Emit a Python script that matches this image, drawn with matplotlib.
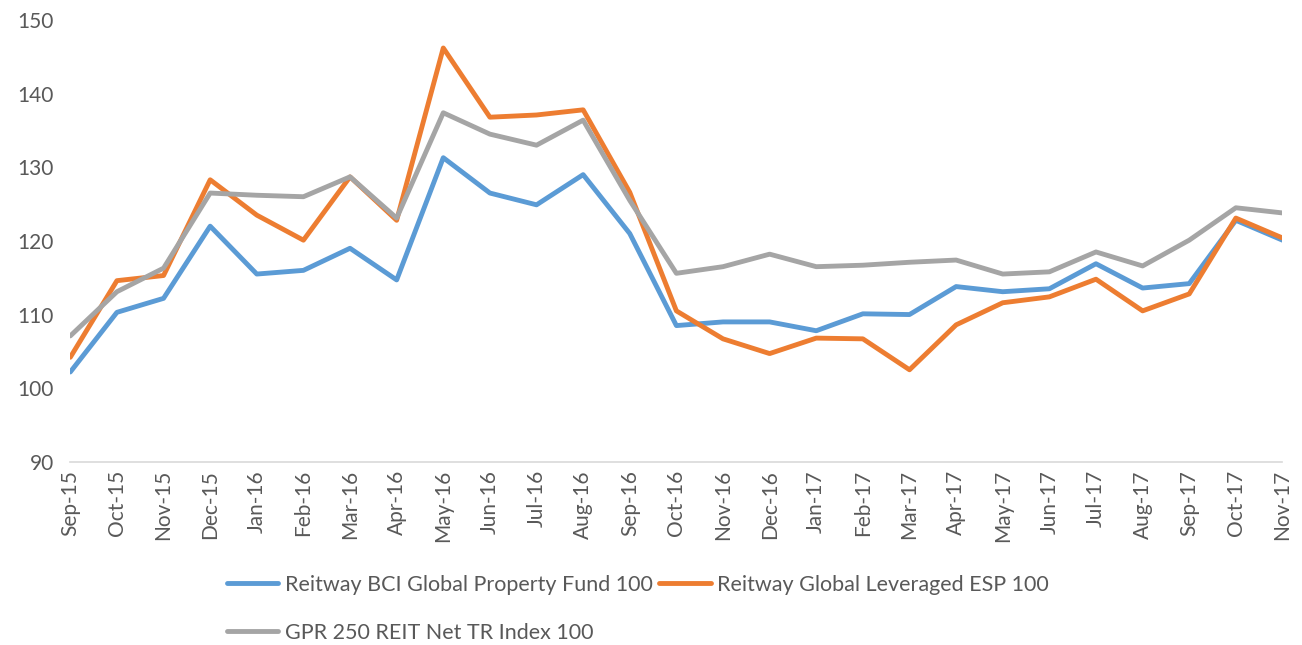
import matplotlib
matplotlib.use("Agg")
import matplotlib.pyplot as plt

plt.rcParams['font.family'] = ['Lato', 'DejaVu Sans']

months = ["Sep-15", "Oct-15", "Nov-15", "Dec-15", "Jan-16", "Feb-16", "Mar-16",
          "Apr-16", "May-16", "Jun-16", "Jul-16", "Aug-16", "Sep-16", "Oct-16",
          "Nov-16", "Dec-16", "Jan-17", "Feb-17", "Mar-17", "Apr-17", "May-17",
          "Jun-17", "Jul-17", "Aug-17", "Sep-17", "Oct-17", "Nov-17"]

bci_fund = [102.2, 110.3, 112.2, 122.0, 115.5, 116.0, 119.0, 114.7, 131.3, 126.5,
            124.9, 129.0, 121.0, 108.5, 109.0, 109.0, 107.8, 110.1, 110.0, 113.8,
            113.1, 113.5, 116.9, 113.6, 114.2, 122.8, 120.1]
leveraged_esp = [104.2, 114.6, 115.3, 128.3, 123.5, 120.1, 128.7, 122.8, 146.2, 136.8,
                 137.1, 137.8, 126.6, 110.5, 106.7, 104.7, 106.8, 106.7, 102.5, 108.6,
                 111.6, 112.4, 114.8, 110.5, 112.8, 123.1, 120.4]
gpr_index = [107.1, 113.1, 116.3, 126.5, 126.2, 126.0, 128.7, 123.1, 137.4, 134.5,
             133.0, 136.4, 125.5, 115.6, 116.5, 118.2, 116.5, 116.7, 117.1, 117.4,
             115.5, 115.8, 118.5, 116.6, 120.1, 124.5, 123.8]

labels = ["Reitway BCI Global Property Fund 100",
          "Reitway Global Leveraged ESP 100",
          "GPR 250 REIT Net TR Index 100"]

text_color = "#595959"

fig = plt.figure(figsize=(13.02, 6.45), dpi=100)
ax = fig.add_axes([0.054, 0.284, 0.931, 0.685])

x = list(range(len(months)))
l1, = ax.plot(x, bci_fund, color="#5B9BD5", lw=3.5, solid_joinstyle="round", solid_capstyle="round")
l2, = ax.plot(x, leveraged_esp, color="#ED7D31", lw=3.5, solid_joinstyle="round", solid_capstyle="round")
l3, = ax.plot(x, gpr_index, color="#A5A5A5", lw=3.5, solid_joinstyle="round", solid_capstyle="round")

ax.set_xlim(0, len(months) - 1)
ax.set_ylim(90, 150)
ax.set_yticks(range(90, 151, 10))
ax.set_xticks(x)
ax.set_xticklabels(months, rotation=90)
ax.tick_params(axis="x", length=0, pad=6, labelsize=15, colors=text_color)
ax.tick_params(axis="y", length=0, pad=12, labelsize=15, colors=text_color)

for side in ["top", "right", "left"]:
    ax.spines[side].set_visible(False)
ax.spines["bottom"].set_color("#D9D9D9")
ax.spines["bottom"].set_linewidth(1.2)

# ordering so ncol=2 gives two entries on top row, one below
fig.legend([l1, l3, l2], [labels[0], labels[2], labels[1]], ncol=2,
           loc="center", bbox_to_anchor=(0.49, 0.056), frameon=False,
           fontsize=15.5, labelcolor=text_color, handlelength=2.4,
           handletextpad=0.3, columnspacing=0.3, labelspacing=1.3)

fig.savefig("out.png", dpi=100)
